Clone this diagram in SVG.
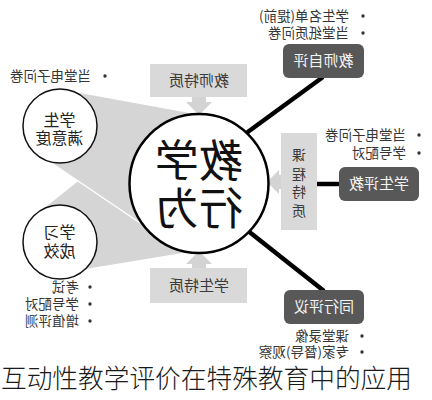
<svg xmlns="http://www.w3.org/2000/svg" width="432" height="400" viewBox="0 0 432 400">
<style>
text{font-family:"Noto Sans CJK SC","Noto Sans",sans-serif}
.li{font-size:13.5px;fill:#353535}
.bt{font-size:15px;fill:#3a3a3a}
.vt{font-size:14px;fill:#3a3a3a}
.dt{font-size:15px;fill:#f4f4f4}
.sc{font-size:16px;fill:#222}
.big{font-size:44px;fill:#111}
.wedge{fill:#d5d5d5;stroke:#fff;stroke-width:1.5;stroke-linejoin:round}
.lbox{fill:#d9d9d9}
.dbox{fill:#585858}
.arr{fill:#d3d3d3}
.dot{fill:#333}
.con{stroke:#000;stroke-width:4.5;stroke-linecap:butt;fill:none}
</style>
<rect width="432" height="400" fill="#fff"/>
<g id="wedges">
<polygon class="wedge" points="60,242 36.9,213.1 150,122.6 199,183 199,252 190,252.5 84,270"/>
<polygon class="wedge" points="60,126 62,89 199,114 199,240 180,250 50,162"/>
</g>
<g id="connectors">
<line class="con" x1="245" y1="134" x2="323" y2="77"/>
<line class="con" x1="245" y1="228.5" x2="324" y2="291"/>
<line class="con" x1="316" y1="184" x2="340" y2="184"/>
<polygon class="arr" points="192,97 206,97 206,102 212,102 199,115 186,102 192,102"/>
<polygon class="arr" points="192,268 206,268 206,264 212,264 199,251 186,264 192,264"/>
<polygon class="arr" points="281,175 279,175 279,170 267,182 279,194 279,189 281,189"/>
</g>
<g id="teaching">
<circle cx="199" cy="183.5" r="69.5" fill="#fff" stroke="#000" stroke-width="2.5"/>
<text class="big" text-anchor="middle" transform="matrix(-1,0,0,1,398,0)" x="199" y="176.8">教学</text>
<text class="big" text-anchor="middle" transform="matrix(-1,0,0,1,398,0)" x="199" y="224.8">行为</text>
</g>
<g id="satisfaction">
<circle cx="60" cy="126" r="37" fill="#fff" stroke="#111" stroke-width="1.5"/>
<text class="sc" text-anchor="middle" transform="matrix(-1,0,0,1,119,0)" x="59.5" y="125.8">学生</text>
<text class="sc" text-anchor="middle" transform="matrix(-1,0,0,1,119,0)" x="59.5" y="143.8">满意度</text>
</g>
<g id="outcome">
<circle cx="60" cy="242" r="37" fill="#fff" stroke="#111" stroke-width="1.5"/>
<text class="sc" text-anchor="middle" transform="matrix(-1,0,0,1,119,0)" x="59.5" y="237.8">学习</text>
<text class="sc" text-anchor="middle" transform="matrix(-1,0,0,1,119,0)" x="59.5" y="256.8">成效</text>
</g>
<g id="teacher-trait">
<rect class="lbox" x="150" y="64" width="97" height="33"/>
<text class="bt" text-anchor="middle" transform="matrix(-1,0,0,1,398,0)" x="199" y="86.4">教师特质</text>
</g>
<g id="student-trait">
<rect class="lbox" x="150" y="268" width="97" height="35"/>
<text class="bt" text-anchor="middle" transform="matrix(-1,0,0,1,398,0)" x="199" y="291.4">学生特质</text>
</g>
<g id="course-trait">
<rect class="lbox" x="281" y="133" width="36" height="97"/>
<g transform="matrix(-1,0,0,1,598,0)">
<text class="vt" text-anchor="middle" x="299" y="160.2">课</text>
<text class="vt" text-anchor="middle" x="299" y="178.7">程</text>
<text class="vt" text-anchor="middle" x="299" y="197.2">特</text>
<text class="vt" text-anchor="middle" x="299" y="215.7">质</text>
</g>
</g>
<g id="self-eval">
<rect class="dbox" x="283" y="44" width="81" height="34" rx="6"/>
<text class="dt" text-anchor="middle" transform="matrix(-1,0,0,1,647,0)" x="323.5" y="66.4">教师自评</text>
</g>
<g id="student-eval">
<rect class="dbox" x="339" y="167" width="80" height="34" rx="6"/>
<text class="dt" text-anchor="middle" transform="matrix(-1,0,0,1,758,0)" x="379" y="189.4">学生评教</text>
</g>
<g id="peer-eval">
<rect class="dbox" x="284" y="290" width="80" height="34" rx="6"/>
<text class="dt" text-anchor="middle" transform="matrix(-1,0,0,1,648,0)" x="324" y="312.4">同行评议</text>
</g>
<g id="list-self">
<circle class="dot" cx="363" cy="16" r="1.7"/>
<circle class="dot" cx="363" cy="33" r="1.7"/>
<text class="li" transform="matrix(-1,0,0,1,698,0)" x="349" y="20.9">学生名单(提前)</text>
<text class="li" transform="matrix(-1,0,0,1,698,0)" x="349" y="37.9">当堂纸质问卷</text>
</g>
<g id="list-student">
<circle class="dot" cx="419" cy="135" r="1.7"/>
<circle class="dot" cx="419" cy="153" r="1.7"/>
<text class="li" transform="matrix(-1,0,0,1,812,0)" x="406" y="139.9">当堂电子问卷</text>
<text class="li" transform="matrix(-1,0,0,1,812,0)" x="406" y="157.9">学号配对</text>
</g>
<g id="list-satisfaction">
<circle class="dot" cx="105" cy="76" r="1.7"/>
<text class="li" transform="matrix(-1,0,0,1,182,0)" x="91" y="80.9">当堂电子问卷</text>
</g>
<g id="list-outcome">
<circle class="dot" cx="90" cy="287" r="1.7"/>
<circle class="dot" cx="90" cy="304" r="1.7"/>
<circle class="dot" cx="90" cy="321" r="1.7"/>
<text class="li" transform="matrix(-1,0,0,1,158,0)" x="79" y="291.9">考试</text>
<text class="li" transform="matrix(-1,0,0,1,158,0)" x="79" y="308.9">学号配对</text>
<text class="li" transform="matrix(-1,0,0,1,158,0)" x="79" y="325.9">增值评测</text>
</g>
<g id="list-peer">
<circle class="dot" cx="362" cy="336" r="1.7"/>
<circle class="dot" cx="362" cy="352" r="1.7"/>
<text class="li" transform="matrix(-1,0,0,1,698,0)" x="349" y="340.9">课堂录像</text>
<text class="li" transform="matrix(-1,0,0,1,698,0)" x="349" y="356.9">专家(督导)观察</text>
</g>
<text x="1" y="387.5" font-size="25.7" fill="#1a1a1a" font-weight="300">互动性教学评价在特殊教育中的应用</text>
</svg>
